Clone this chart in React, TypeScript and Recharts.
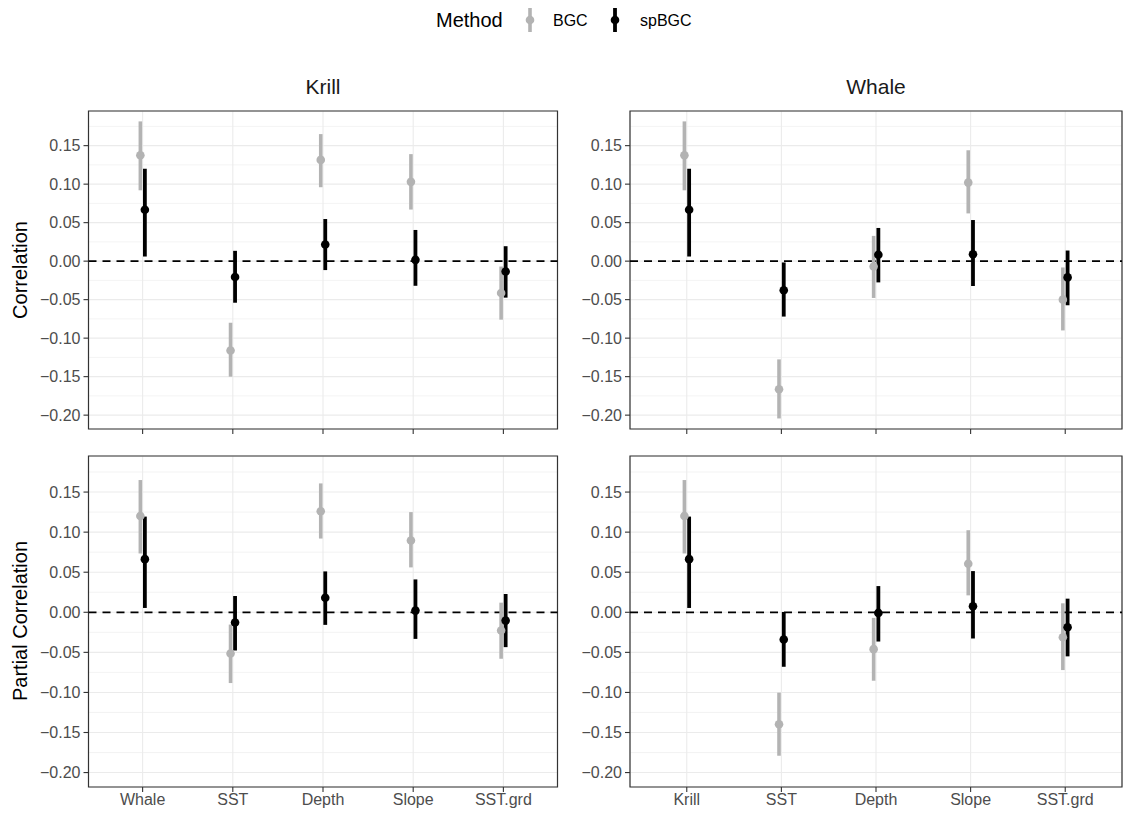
import {
  ScatterChart,
  Scatter,
  XAxis,
  YAxis,
  CartesianGrid,
  ReferenceLine,
  ReferenceArea,
  ErrorBar,
} from 'recharts'

/* 2x2 facet: Krill / Whale (columns) x Correlation / Partial Correlation (rows).
   Each panel = pointrange for BGC (grey) and spBGC (black), dodged a touch. */

const FONT = '"Liberation Sans", Arial, Helvetica, sans-serif'
const GREY = '#b3b3b3'
const BLACK = '#000000'
const GRID = '#ebebeb'
const BORDER = '#333333'
const TICK_TEXT = '#4d4d4d'

const KRILL_VARS = ['Whale', 'SST', 'Depth', 'Slope', 'SST.grd']
const WHALE_VARS = ['Krill', 'SST', 'Depth', 'Slope', 'SST.grd']

const Y_TICKS = [-0.2, -0.15, -0.1, -0.05, 0, 0.05, 0.1, 0.15]
const Y_MINOR = [-0.175, -0.125, -0.075, -0.025, 0.025, 0.075, 0.125, 0.175]
const Y_DOMAIN: [number, number] = [-0.218, 0.195]
const X_TICKS = [1, 2, 3, 4, 5]

// Correlation, Krill
const COR_KRILL_BGC = [0.1375, -0.116, 0.1315, 0.103, -0.0414]
const COR_KRILL_BGC_LO = [0.092, -0.15, 0.096, 0.067, -0.076]
const COR_KRILL_BGC_HI = [0.1815, -0.08, 0.165, 0.139, -0.007]
const COR_KRILL_SP = [0.0668, -0.0207, 0.0216, 0.0017, -0.0134]
const COR_KRILL_SP_LO = [0.006, -0.054, -0.0116, -0.032, -0.0474]
const COR_KRILL_SP_HI = [0.12, 0.0134, 0.0547, 0.0405, 0.0194]

// Correlation, Whale
const COR_WHALE_BGC = [0.1375, -0.1664, -0.0069, 0.102, -0.05]
const COR_WHALE_BGC_LO = [0.092, -0.2043, -0.0478, 0.062, -0.09]
const COR_WHALE_BGC_HI = [0.1815, -0.1276, 0.0328, 0.144, -0.0082]
const COR_WHALE_SP = [0.0668, -0.0379, 0.0082, 0.009, -0.0211]
const COR_WHALE_SP_LO = [0.006, -0.072, -0.0276, -0.0323, -0.0573]
const COR_WHALE_SP_HI = [0.12, -0.0017, 0.0431, 0.0534, 0.0138]

// Partial correlation, Krill
const PCOR_KRILL_BGC = [0.1202, -0.0514, 0.126, 0.0895, -0.0228]
const PCOR_KRILL_BGC_LO = [0.0734, -0.0883, 0.092, 0.056, -0.058]
const PCOR_KRILL_BGC_HI = [0.165, -0.0153, 0.1608, 0.125, 0.012]
const PCOR_KRILL_SP = [0.0663, -0.0128, 0.0182, 0.0021, -0.0104]
const PCOR_KRILL_SP_LO = [0.0054, -0.0477, -0.0157, -0.0332, -0.0435]
const PCOR_KRILL_SP_HI = [0.1194, 0.0203, 0.051, 0.041, 0.0228]

// Partial correlation, Whale
const PCOR_WHALE_BGC = [0.1202, -0.1397, -0.046, 0.0605, -0.0311]
const PCOR_WHALE_BGC_LO = [0.0734, -0.179, -0.0854, 0.0211, -0.0721]
const PCOR_WHALE_BGC_HI = [0.165, -0.1003, -0.007, 0.1024, 0.0112]
const PCOR_WHALE_SP = [0.0663, -0.034, -0.0008, 0.0075, -0.0186]
const PCOR_WHALE_SP_LO = [0.0054, -0.068, -0.0365, -0.0327, -0.055]
const PCOR_WHALE_SP_HI = [0.1194, 0.0004, 0.0327, 0.0514, 0.017]

const DODGE = 0.025

type Row = { x: number; y: number; err: [number, number] }

const rows = (est: number[], lo: number[], hi: number[], shift: number): Row[] =>
  est.map((y, i) => ({ x: i + 1 + shift, y, err: [y - lo[i], hi[i] - y] }))

const fmtY = (v: number) => (v < 0 ? '\u2212' : '') + Math.abs(v).toFixed(2)

const dot = (fill: string) => (p: any) => <circle cx={p.cx} cy={p.cy} r={4.3} fill={fill} />

type PanelProps = {
  vars: string[]
  bgc: Row[]
  sp: Row[]
  showX: boolean
  left: number
  top: number
  width: number
  height: number
  axisW: number
  plotW: number
  plotH: number
}

function Panel({ vars, bgc, sp, showX, left, top, width, height, axisW, plotW, plotH }: PanelProps) {
  const mTop = 10
  const xH = height - mTop - plotH
  return (
    <div style={{ position: 'absolute', left, top }}>
      <ScatterChart
        width={width}
        height={height}
        margin={{ top: mTop, right: width - axisW - plotW, bottom: 0, left: 0 }}
      >
        <CartesianGrid
          horizontalValues={Y_MINOR}
          vertical={false}
          stroke={GRID}
          strokeWidth={0.6}
        />
        <CartesianGrid stroke={GRID} strokeWidth={1.1} />
        <XAxis
          type="number"
          dataKey="x"
          domain={[0.4, 5.6]}
          ticks={X_TICKS}
          interval={0}
          allowDataOverflow
          height={xH}
          axisLine={false}
          tickLine={{ stroke: BORDER, strokeWidth: 1.1 }}
          tickSize={5}
          tickMargin={2}
          tick={{ fill: TICK_TEXT, fontSize: 16, fontFamily: FONT }}
          tickFormatter={(v: number) => (showX ? vars[v - 1] : '')}
        />
        <YAxis
          type="number"
          dataKey="y"
          domain={Y_DOMAIN}
          ticks={Y_TICKS}
          interval={0}
          allowDataOverflow
          width={axisW}
          axisLine={false}
          tickLine={{ stroke: BORDER, strokeWidth: 1.1 }}
          tickSize={5}
          tickMargin={3}
          tick={{ fill: TICK_TEXT, fontSize: 16, fontFamily: FONT }}
          tickFormatter={fmtY}
        />
        <ReferenceLine y={0} stroke={BLACK} strokeWidth={1.7} strokeDasharray="8 6" />
        <Scatter data={bgc} shape={dot(GREY)} isAnimationActive={false}>
          <ErrorBar dataKey="err" direction="y" width={0} stroke={GREY} strokeWidth={3.6} />
        </Scatter>
        <Scatter data={sp} shape={dot(BLACK)} isAnimationActive={false}>
          <ErrorBar dataKey="err" direction="y" width={0} stroke={BLACK} strokeWidth={3.8} />
        </Scatter>
        <ReferenceArea
          x1={0.4}
          x2={5.6}
          y1={Y_DOMAIN[0]}
          y2={Y_DOMAIN[1]}
          fill="none"
          fillOpacity={0}
          stroke={BORDER}
          strokeWidth={1.2}
        />
      </ScatterChart>
    </div>
  )
}

function Legend() {
  return (
    <svg width={1123} height={45} style={{ position: 'absolute', left: 0, top: 0 }}>
      <text x={436} y={27} fontSize={20} fontFamily={FONT} fill="#000">
        Method
      </text>
      <line x1={530} y1={8} x2={530} y2={32} stroke={GREY} strokeWidth={3.6} />
      <circle cx={530} cy={20} r={4.3} fill={GREY} />
      <text x={553} y={26} fontSize={16} fontFamily={FONT} fill="#000">
        BGC
      </text>
      <line x1={615} y1={8} x2={615} y2={32} stroke={BLACK} strokeWidth={3.8} />
      <circle cx={615} cy={20} r={4.3} fill={BLACK} />
      <text x={640} y={26} fontSize={16} fontFamily={FONT} fill="#000">
        spBGC
      </text>
    </svg>
  )
}

export default function App() {
  return (
    <div
      style={{
        position: 'absolute',
        left: 0,
        top: 0,
        width: 1123,
        height: 816,
        background: '#fff',
        fontFamily: FONT,
      }}
    >
      <Legend />
      <svg width={1123} height={816} style={{ position: 'absolute', left: 0, top: 0 }}>
        <text x={323} y={94} fontSize={21} fontFamily={FONT} textAnchor="middle" fill="#1a1a1a">
          Krill
        </text>
        <text x={876} y={94} fontSize={21} fontFamily={FONT} textAnchor="middle" fill="#1a1a1a">
          Whale
        </text>
        <text
          x={0}
          y={0}
          fontSize={20}
          fontFamily={FONT}
          textAnchor="middle"
          fill="#000"
          transform="translate(27 270) rotate(-90)"
        >
          Correlation
        </text>
        <text
          x={0}
          y={0}
          fontSize={20}
          fontFamily={FONT}
          textAnchor="middle"
          fill="#000"
          transform="translate(27 621) rotate(-90)"
        >
          Partial Correlation
        </text>
      </svg>
      <Panel
        vars={KRILL_VARS}
        bgc={rows(COR_KRILL_BGC, COR_KRILL_BGC_LO, COR_KRILL_BGC_HI, -DODGE)}
        sp={rows(COR_KRILL_SP, COR_KRILL_SP_LO, COR_KRILL_SP_HI, DODGE)}
        showX={false}
        left={0}
        top={101}
        width={570}
        height={340}
        axisW={88.5}
        plotW={469}
        plotH={318}
      />
      <Panel
        vars={WHALE_VARS}
        bgc={rows(COR_WHALE_BGC, COR_WHALE_BGC_LO, COR_WHALE_BGC_HI, -DODGE)}
        sp={rows(COR_WHALE_SP, COR_WHALE_SP_LO, COR_WHALE_SP_HI, DODGE)}
        showX={false}
        left={560}
        top={101}
        width={563}
        height={340}
        axisW={70}
        plotW={492}
        plotH={318}
      />
      <Panel
        vars={KRILL_VARS}
        bgc={rows(PCOR_KRILL_BGC, PCOR_KRILL_BGC_LO, PCOR_KRILL_BGC_HI, -DODGE)}
        sp={rows(PCOR_KRILL_SP, PCOR_KRILL_SP_LO, PCOR_KRILL_SP_HI, DODGE)}
        showX
        left={0}
        top={446}
        width={570}
        height={370}
        axisW={88.5}
        plotW={469}
        plotH={331}
      />
      <Panel
        vars={WHALE_VARS}
        bgc={rows(PCOR_WHALE_BGC, PCOR_WHALE_BGC_LO, PCOR_WHALE_BGC_HI, -DODGE)}
        sp={rows(PCOR_WHALE_SP, PCOR_WHALE_SP_LO, PCOR_WHALE_SP_HI, DODGE)}
        showX
        left={560}
        top={446}
        width={563}
        height={370}
        axisW={70}
        plotW={492}
        plotH={331}
      />
    </div>
  )
}
